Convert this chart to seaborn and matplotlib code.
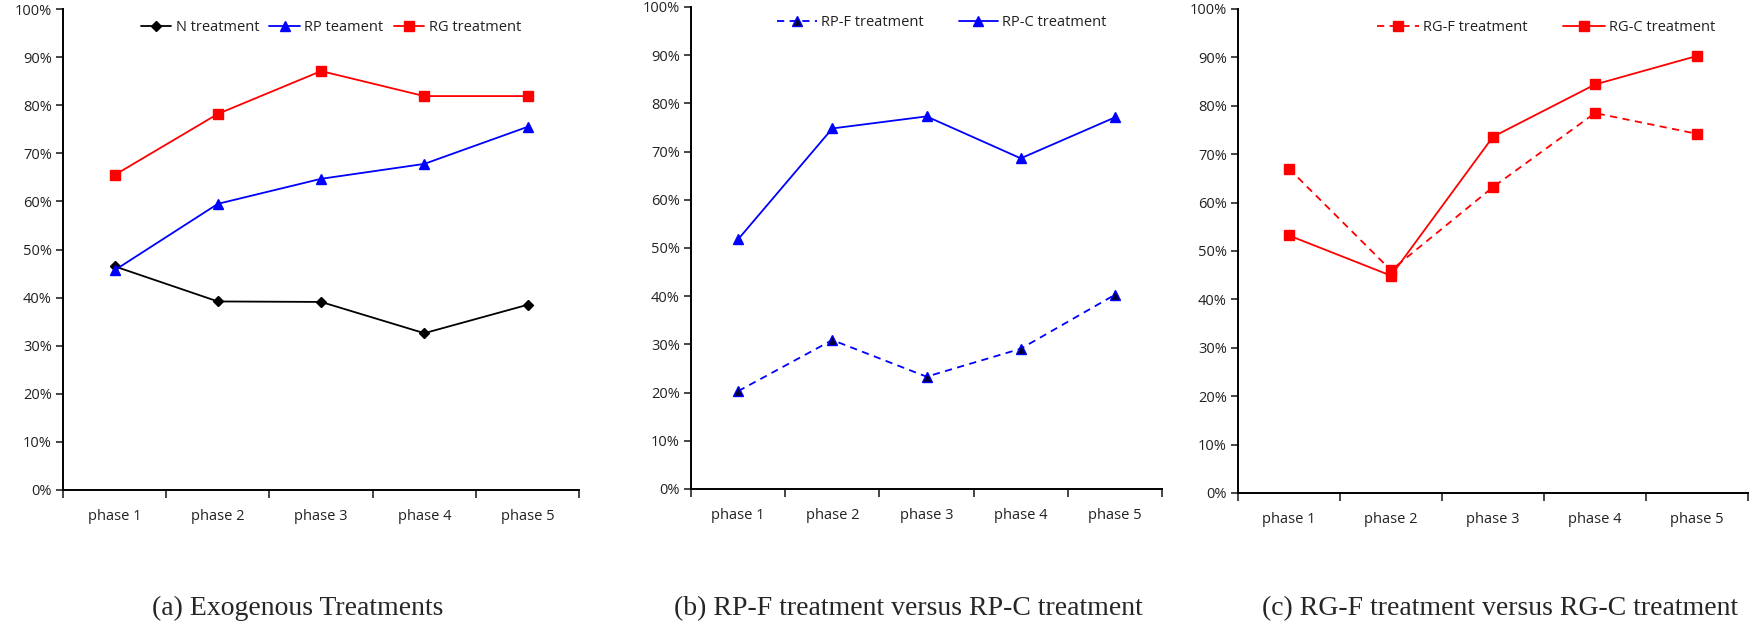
import numpy as np
import pandas as pd
import matplotlib.pyplot as plt
import matplotlib.ticker as mticker
import seaborn as sns

# ================== data ==================
phases = ["phase 1", "phase 2", "phase 3", "phase 4", "phase 5"]

n_treat = [46.5, 39.2, 39.1, 32.6, 38.5]
rp_treat = [45.7, 59.5, 64.7, 67.8, 75.5]
rg_treat = [65.5, 78.2, 87.1, 81.9, 81.9]

rp_f = [20.3, 30.9, 23.3, 29.1, 40.3]
rp_c = [51.8, 74.8, 77.3, 68.6, 77.1]

rg_f = [67.0, 46.0, 63.2, 78.5, 74.2]
rg_c = [53.2, 44.9, 73.6, 84.4, 90.3]

captions = ["(a) Exogenous Treatments",
            "(b) RP-F treatment versus RP-C treatment",
            "(c) RG-F treatment versus RG-C treatment"]
# ==========================================

TICK_FONT = "Open Sans"
CAP_FONT = "Liberation Serif"


def make_df(series):
    rows = []
    for name, vals in series.items():
        for i, v in enumerate(vals):
            rows.append({"pos": i, "phase": phases[i], "value": v, "series": name})
    return pd.DataFrame(rows)


def style_axis(ax):
    ax.set_xlim(-0.5, len(phases) - 0.5)
    ax.set_ylim(0, 100)
    ax.set_yticks(np.arange(0, 101, 10))
    ax.yaxis.set_major_formatter(mticker.PercentFormatter(decimals=0))
    ax.set_xticks(range(len(phases)))
    ax.set_xticklabels(phases)
    ax.set_xticks(np.arange(-0.5, len(phases), 1.0), minor=True)
    ax.tick_params(axis="x", which="major", length=0, pad=14)
    ax.tick_params(axis="x", which="minor", length=6, width=1.2, direction="out")
    ax.tick_params(axis="y", length=5, width=1.2, direction="out", pad=3)
    for lab in ax.get_xticklabels() + ax.get_yticklabels():
        lab.set_fontfamily(TICK_FONT)
        lab.set_fontsize(10.5)
        lab.set_color("#222222")
    for s in ["left", "bottom"]:
        ax.spines[s].set_linewidth(1.4)
        ax.spines[s].set_color("black")
    sns.despine(ax=ax)
    ax.set_xlabel("")
    ax.set_ylabel("")


def draw(ax, df, styles):
    for name, st in styles.items():
        sub = df[df["series"] == name]
        sns.lineplot(data=sub, x="pos", y="value", ax=ax, label=name,
                     color=st["color"], linestyle=st["ls"], linewidth=1.3,
                     marker=st["marker"], markersize=st["ms"],
                     markerfacecolor=st["mfc"], markeredgecolor=st["color"],
                     markeredgewidth=1.0)


sns.set_theme(style="ticks")
fig = plt.figure(figsize=(17.57, 6.23), dpi=100)

ax_a = fig.add_axes([0.0359, 0.2135, 0.2937, 0.772])
ax_b = fig.add_axes([0.3933, 0.2151, 0.2681, 0.7737])
ax_c = fig.add_axes([0.7046, 0.2087, 0.2903, 0.7769])

df_a = make_df({"N treatment": n_treat, "RP teament": rp_treat, "RG treatment": rg_treat})
draw(ax_a, df_a, {
    "N treatment": dict(color="black", ls="-", marker="D", ms=5, mfc="black"),
    "RP teament": dict(color="#0000ff", ls="-", marker="^", ms=7.5, mfc="#0000ff"),
    "RG treatment": dict(color="#ff0000", ls="-", marker="s", ms=7.5, mfc="#ff0000"),
})

df_b = make_df({"RP-F treatment": rp_f, "RP-C treatment": rp_c})
draw(ax_b, df_b, {
    "RP-F treatment": dict(color="#0000ff", ls=(0, (4, 3)), marker="^", ms=7.5, mfc="#000033"),
    "RP-C treatment": dict(color="#0000ff", ls="-", marker="^", ms=7.5, mfc="#0000ff"),
})

df_c = make_df({"RG-F treatment": rg_f, "RG-C treatment": rg_c})
draw(ax_c, df_c, {
    "RG-F treatment": dict(color="#ff0000", ls=(0, (4, 3)), marker="s", ms=7.5, mfc="#ff0000"),
    "RG-C treatment": dict(color="#ff0000", ls="-", marker="s", ms=7.5, mfc="#ff0000"),
})

# legend placement per panel: (anchor x, ncol, handlelength, columnspacing, anchor y)
leg_opts = [(0.519, 3, 2.1, 0.7, 1.005), (0.533, 2, 2.7, 2.4, 1.01), (0.604, 2, 2.9, 2.4, 1.005)]
cap_x = [298 / 1757, 908 / 1757, 1500 / 1757]

for ax, cap, cx, (lx, col, hl, cs, ly) in zip([ax_a, ax_b, ax_c], captions, cap_x, leg_opts):
    style_axis(ax)
    leg = ax.legend(loc="upper center", bbox_to_anchor=(lx, ly), ncol=col,
                    frameon=False, handlelength=hl, handletextpad=0.3,
                    columnspacing=cs, prop={"family": TICK_FONT, "size": 10.5})
    for t in leg.get_texts():
        t.set_color("#222222")
    fig.text(cx, 1 - 596 / 623, cap, ha="center", va="top",
             fontfamily=CAP_FONT, fontsize=20)

fig.savefig("out.png", dpi=100)
